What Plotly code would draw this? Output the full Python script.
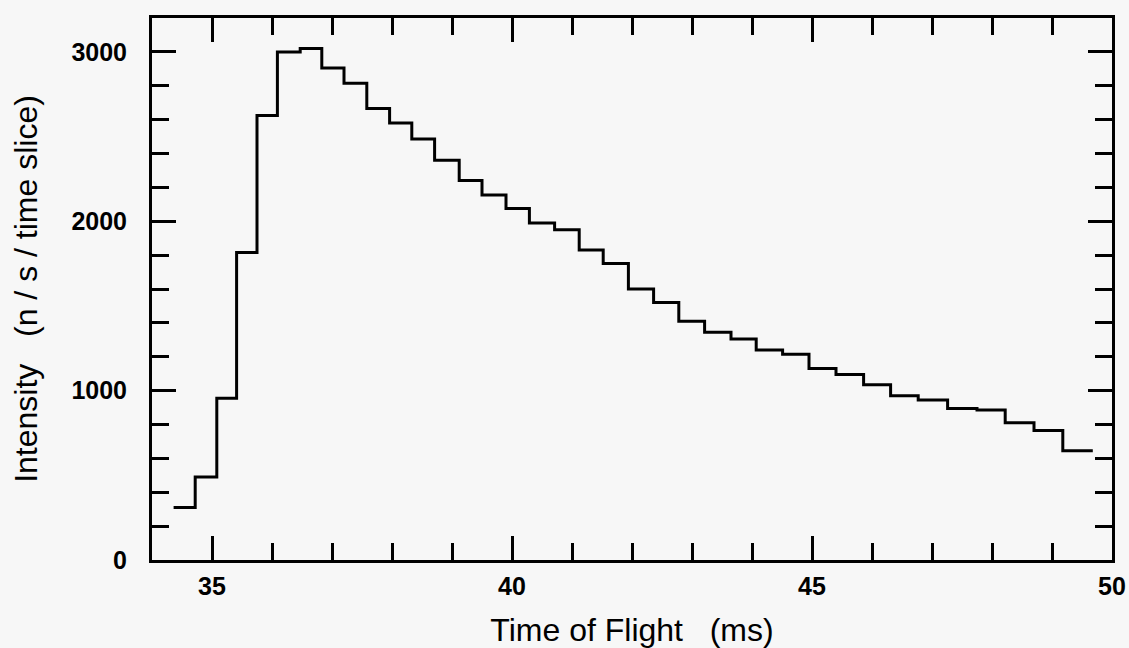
import plotly.graph_objects as go

# Time-of-flight bin edges (ms)
bin_edges = [34.36, 34.72, 35.08, 35.41, 35.75, 36.09, 36.47, 36.83, 37.20, 37.58,
             37.96, 38.33, 38.71, 39.12, 39.50, 39.90, 40.29, 40.71, 41.12, 41.52,
             41.94, 42.36, 42.78, 43.21, 43.65, 44.07, 44.51, 44.95, 45.40, 45.86,
             46.31, 46.77, 47.26, 47.75, 48.22, 48.70, 49.18, 49.68]

# Intensity per bin (n / s / time slice)
intensity = [310, 490, 955, 1815, 2625, 3000, 3020, 2905, 2815, 2665,
             2580, 2485, 2360, 2240, 2155, 2075, 1990, 1950, 1830, 1750,
             1600, 1520, 1410, 1345, 1305, 1240, 1215, 1130, 1095, 1035,
             970, 945, 895, 885, 810, 765, 645]

x_tick_vals = [35, 40, 45, 50]
y_tick_vals = [0, 1000, 2000, 3000]

FONT = "Liberation Sans, Arial, sans-serif"
BG = "#f7f7f7"

fig = go.Figure()
fig.add_trace(go.Scatter(
    x=bin_edges,
    y=intensity + [intensity[-1]],
    mode="lines",
    line=dict(shape="hv", color="black", width=3),
    showlegend=False,
    hoverinfo="skip",
))

axis_common = dict(
    showgrid=False, zeroline=False,
    showline=True, linecolor="black", linewidth=3,
    mirror="ticks", automargin=False,
    ticks="inside", tickcolor="black", tickwidth=2.5, ticklen=24,
    tickfont=dict(family=FONT, size=25, color="black", weight="bold"),
)

fig.update_xaxes(
    **axis_common,
    range=[34, 50],
    tickmode="array", tickvals=x_tick_vals, ticktext=[str(v) for v in x_tick_vals],
    minor=dict(dtick=1, tick0=34, ticks="inside", ticklen=17, tickwidth=2.5, tickcolor="black"),
    ticklabelstandoff=2,
    title=dict(text="Time of Flight   (ms)", font=dict(family=FONT, size=32, color="black"), standoff=36),
)
fig.update_yaxes(
    **axis_common,
    range=[0, 3200],
    tickmode="array", tickvals=y_tick_vals, ticktext=[str(v) for v in y_tick_vals],
    minor=dict(dtick=200, tick0=0, ticks="inside", ticklen=17, tickwidth=2.5, tickcolor="black"),
    ticklabelstandoff=17,
    title=dict(text="Intensity   (n / s / time slice)", font=dict(family=FONT, size=32, color="black"), standoff=25),
)

fig.update_layout(
    width=1129, height=648,
    margin=dict(l=152, r=17, t=18, b=88),
    paper_bgcolor=BG, plot_bgcolor=BG,
    font=dict(family=FONT, color="black"),
)

fig.write_html("out.html")
